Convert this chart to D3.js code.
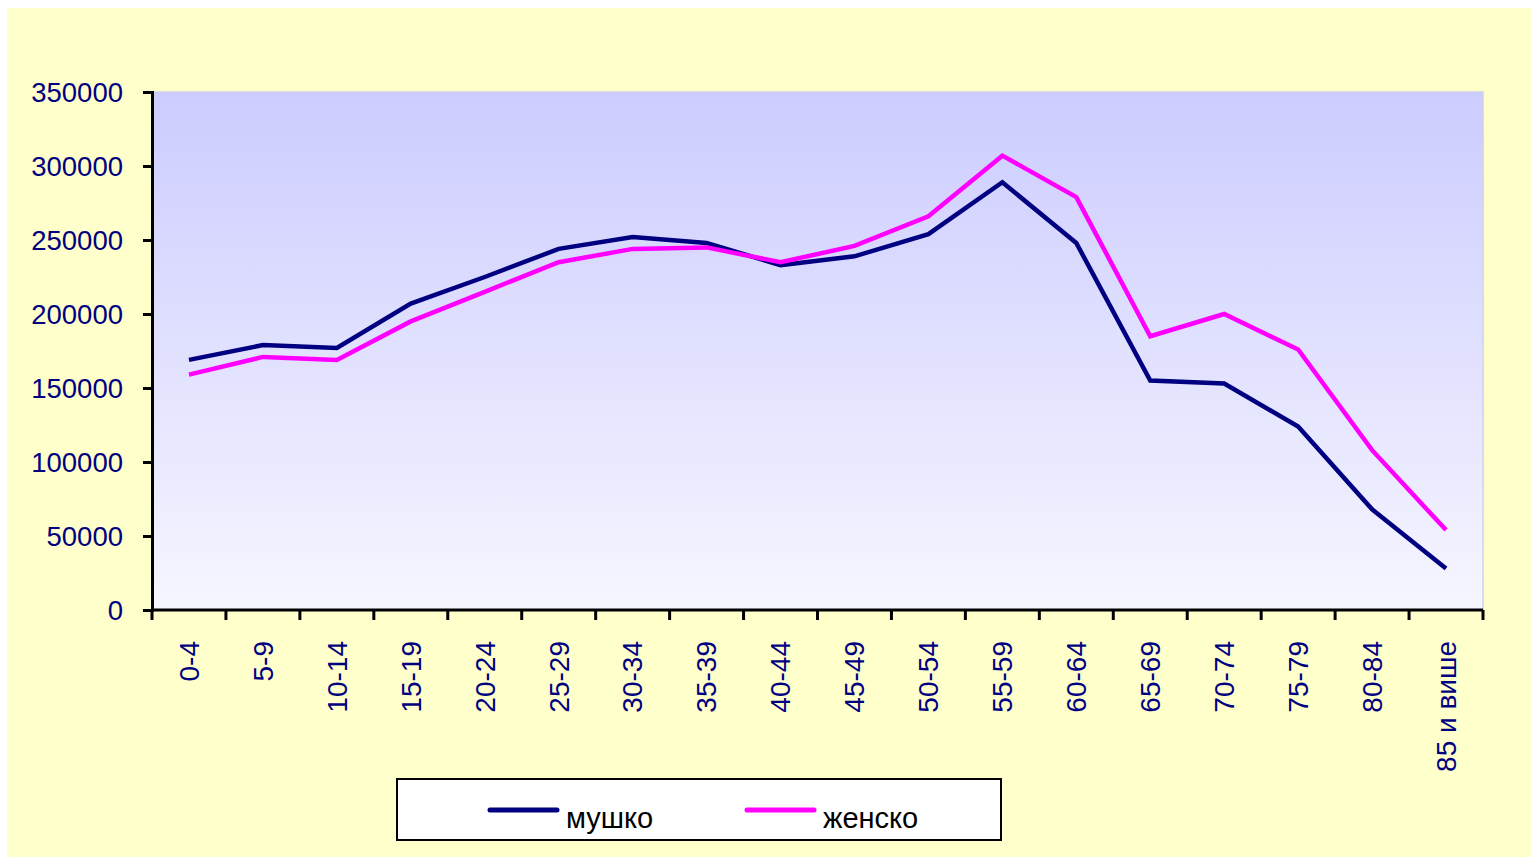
<!DOCTYPE html>
<html>
<head>
<meta charset="utf-8">
<script src="https://cdn.jsdelivr.net/npm/d3@7"></script>
<style>
  html, body { margin: 0; padding: 0; background: #fff; }
  svg { display: block; }
  text { font-family: "Liberation Sans", Arial, sans-serif; }
</style>
</head>
<body>
<div id="chart"></div>
<script>
// age groups and population by sex
const ageGroups = ['0-4', '5-9', '10-14', '15-19', '20-24', '25-29', '30-34', '35-39', '40-44',
  '45-49', '50-54', '55-59', '60-64', '65-69', '70-74', '75-79', '80-84', '85 и више'];
const male = [169000, 179000, 177000, 207000, 225000, 244000, 252000, 248000, 233000,
  239000, 254000, 289000, 248000, 155000, 153000, 124000, 68000, 28000];
const female = [159000, 171000, 169000, 195000, 215000, 235000, 244000, 245000, 235000,
  246000, 266000, 307000, 279000, 185000, 200000, 176000, 108000, 54000];
const yTicks = [0, 50000, 100000, 150000, 200000, 250000, 300000, 350000];
const seriesNames = ['мушко', 'женско'];
const seriesColors = ['#000080', '#ff00ff'];

const width = 1531, height = 857;
const margin = { top: 92, right: 48, bottom: 247, left: 152 };
const innerW = width - margin.left - margin.right;
const innerH = height - margin.top - margin.bottom;

const svg = d3.select('#chart').append('svg')
  .attr('width', width)
  .attr('height', height);

// yellow chart area
svg.append('rect')
  .attr('x', 7).attr('y', 8)
  .attr('width', width - 7).attr('height', height - 8)
  .attr('fill', '#ffffcc');

const defs = svg.append('defs');
const grad = defs.append('linearGradient')
  .attr('id', 'plotbg')
  .attr('x1', 0).attr('y1', 0).attr('x2', 0).attr('y2', 1);
grad.append('stop').attr('offset', '0%').attr('stop-color', '#ccccff');
grad.append('stop').attr('offset', '100%').attr('stop-color', '#f6f6ff');

const chart = svg.append('g')
  .attr('transform', `translate(${margin.left},${margin.top})`);

chart.append('rect')
  .attr('width', innerW).attr('height', innerH)
  .attr('fill', 'url(#plotbg)')
  .attr('stroke', '#d0d0f0')
  .attr('stroke-width', 1.5);

const x = d3.scaleBand().domain(ageGroups).range([0, innerW]);
const y = d3.scaleLinear().domain([0, 350000]).range([innerH, 0]);

// y axis
const yAxis = chart.append('g')
  .call(d3.axisLeft(y).tickValues(yTicks).tickSize(9).tickPadding(20).tickFormat(d3.format('d')));
yAxis.select('.domain').attr('stroke', '#000').attr('stroke-width', 3);
yAxis.selectAll('.tick line').attr('stroke', '#000').attr('stroke-width', 3);
yAxis.selectAll('.tick text')
  .attr('fill', '#000080')
  .style('font-size', '27.5px')
  .attr('dy', '0.35em');

// x axis: ticks on category boundaries
const xAxis = chart.append('g')
  .attr('transform', `translate(0,${innerH})`);
xAxis.append('line')
  .attr('x1', 0).attr('x2', innerW)
  .attr('stroke', '#000').attr('stroke-width', 3);
const bounds = ageGroups.map(d => x(d)).concat([innerW]);
xAxis.selectAll('.xtick').data(bounds).join('line')
  .attr('class', 'xtick')
  .attr('x1', d => d).attr('x2', d => d)
  .attr('y1', 0).attr('y2', 10)
  .attr('stroke', '#000').attr('stroke-width', 3);
xAxis.selectAll('.xlab').data(ageGroups).join('text')
  .attr('class', 'xlab')
  .attr('transform', d => `translate(${x(d) + x.bandwidth() / 2},31) rotate(-90)`)
  .attr('text-anchor', 'end')
  .attr('dy', '0.35em')
  .attr('fill', '#000080')
  .style('font-size', '28px')
  .text(d => d);

// lines
const line = d3.line()
  .x((d, i) => x(ageGroups[i]) + x.bandwidth() / 2)
  .y(d => y(d));

[male, female].forEach((vals, i) => {
  chart.append('path')
    .datum(vals)
    .attr('fill', 'none')
    .attr('stroke', seriesColors[i])
    .attr('stroke-width', 4.5)
    .attr('stroke-linejoin', 'miter')
    .attr('d', line);
});

// legend
const legend = svg.append('g').attr('transform', 'translate(397,779)');
legend.append('rect')
  .attr('width', 604).attr('height', 61)
  .attr('fill', '#fff')
  .attr('stroke', '#000').attr('stroke-width', 2);
const items = legend.selectAll('.item').data(seriesNames).join('g')
  .attr('class', 'item')
  .attr('transform', (d, i) => `translate(${93 + i * 257},31)`);
items.append('line')
  .attr('x1', 0).attr('x2', 67)
  .attr('stroke', (d, i) => seriesColors[i])
  .attr('stroke-width', 5)
  .attr('stroke-linecap', 'round');
items.append('text')
  .attr('x', 76).attr('y', 8)
  .attr('dy', '0.35em')
  .attr('fill', '#000')
  .style('font-size', '29px')
  .text(d => d);
</script>
</body>
</html>
